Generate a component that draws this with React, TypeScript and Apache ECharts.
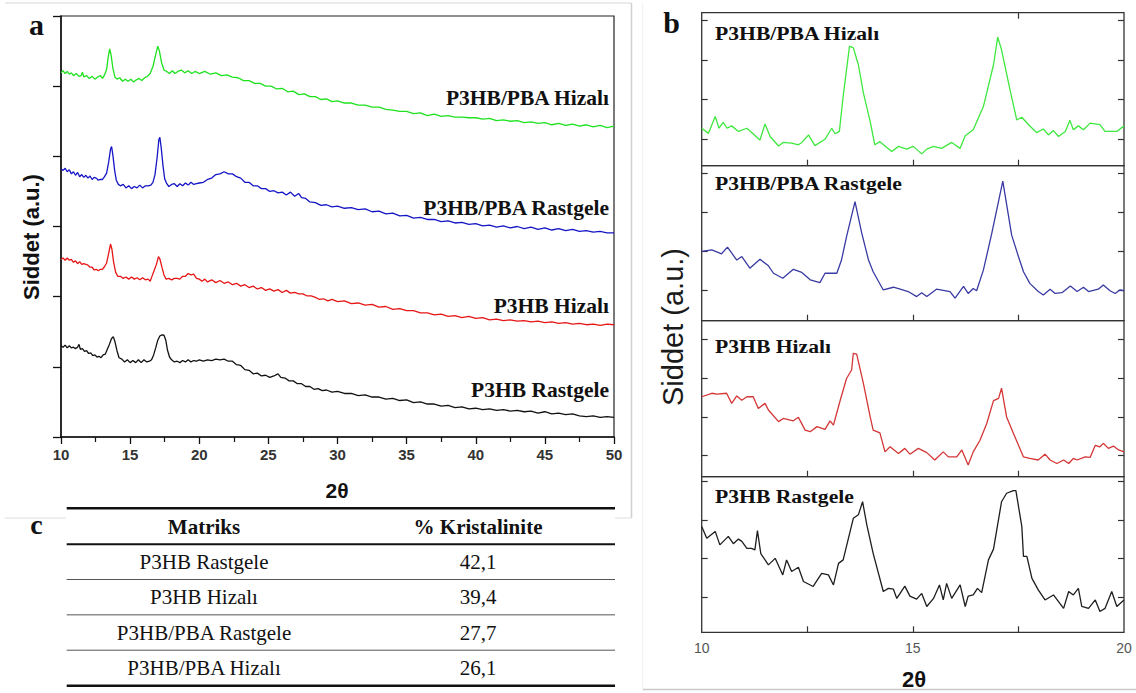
import React, { useEffect, useRef } from "react";
import * as echarts from "echarts";

// ---------- Panel a: full XRD patterns (2θ, intensity in offset units) ----------
const GREEN_A = [[10,5.19],[10.15,5.22],[10.3,5.18],[10.45,5.21],[10.6,5.17],[10.75,5.19],[10.9,5.15],[11.1,5.18],[11.3,5.14],[11.45,5.15],[11.55,5.2],[11.65,5.13],[11.85,5.15],[12.05,5.11],[12.25,5.14],[12.45,5.1],[12.65,5.13],[12.85,5.15],[13,5.11],[13.15,5.16],[13.3,5.24],[13.42,5.42],[13.52,5.53],[13.62,5.45],[13.75,5.26],[13.9,5.13],[14.05,5.1],[14.25,5.12],[14.45,5.07],[14.65,5.1],[14.85,5.07],[15.05,5.1],[15.25,5.06],[15.45,5.09],[15.65,5.11],[15.85,5.08],[16.05,5.12],[16.25,5.14],[16.45,5.18],[16.65,5.28],[16.85,5.45],[17,5.57],[17.12,5.5],[17.28,5.33],[17.45,5.23],[17.65,5.21],[17.85,5.18],[18.05,5.22],[18.25,5.18],[18.45,5.21],[18.7,5.23],[18.95,5.19],[19.2,5.22],[19.45,5.18],[19.7,5.21],[20,5.18],[20.4,5.21],[20.8,5.17],[21.2,5.19],[21.6,5.15],[22,5.16],[22.4,5.13],[22.8,5.12],[23.2,5.08],[23.6,5.08],[24,5.04],[24.4,5.04],[24.8,5],[25.2,5],[25.6,4.96],[26,4.97],[26.4,4.92],[26.8,4.93],[27.2,4.88],[27.6,4.89],[28,4.85],[28.4,4.85],[28.8,4.81],[29.2,4.82],[29.6,4.78],[30,4.79],[30.5,4.76],[31,4.76],[31.5,4.73],[32,4.73],[32.5,4.7],[33,4.7],[33.5,4.67],[34,4.66],[34.5,4.64],[35,4.64],[35.5,4.61],[36,4.62],[36.5,4.58],[37,4.6],[37.5,4.57],[38,4.58],[38.5,4.56],[39,4.56],[39.5,4.55],[40,4.55],[40.5,4.53],[41,4.54],[41.5,4.51],[42,4.52],[42.5,4.5],[43,4.51],[43.5,4.48],[44,4.49],[44.5,4.47],[45,4.48],[45.5,4.45],[46,4.47],[46.5,4.44],[47,4.46],[47.5,4.43],[48,4.45],[48.5,4.42],[49,4.44],[49.5,4.41],[50,4.43]];
const BLUE_A = [[10,3.82],[10.15,3.8],[10.3,3.83],[10.45,3.78],[10.6,3.81],[10.75,3.75],[10.9,3.78],[11.05,3.73],[11.2,3.77],[11.35,3.71],[11.5,3.74],[11.65,3.7],[11.8,3.73],[11.95,3.69],[12.1,3.72],[12.25,3.67],[12.4,3.7],[12.55,3.69],[12.7,3.66],[12.85,3.67],[13,3.67],[13.15,3.71],[13.3,3.76],[13.45,3.92],[13.58,4.1],[13.66,4.14],[13.75,4.02],[13.88,3.8],[14,3.66],[14.15,3.6],[14.3,3.58],[14.5,3.6],[14.7,3.55],[14.9,3.58],[15.1,3.54],[15.3,3.57],[15.5,3.55],[15.7,3.59],[15.9,3.55],[16.1,3.58],[16.3,3.58],[16.5,3.59],[16.65,3.63],[16.8,3.74],[16.95,3.98],[17.08,4.24],[17.15,4.27],[17.25,4.12],[17.38,3.86],[17.5,3.68],[17.65,3.61],[17.8,3.57],[18,3.6],[18.2,3.61],[18.4,3.57],[18.6,3.61],[18.8,3.58],[19,3.62],[19.2,3.59],[19.4,3.63],[19.6,3.6],[19.8,3.61],[20,3.62],[20.3,3.63],[20.6,3.67],[20.9,3.69],[21.2,3.74],[21.5,3.75],[21.8,3.78],[22.1,3.75],[22.4,3.75],[22.7,3.71],[23,3.69],[23.3,3.63],[23.6,3.63],[23.9,3.58],[24.2,3.58],[24.5,3.54],[24.8,3.54],[25.1,3.5],[25.4,3.51],[25.7,3.48],[26,3.49],[26.3,3.45],[26.6,3.49],[26.9,3.43],[27.2,3.47],[27.4,3.41],[27.7,3.4],[28,3.35],[28.4,3.34],[28.8,3.3],[29.2,3.31],[29.6,3.28],[30,3.29],[30.5,3.26],[31,3.27],[31.5,3.24],[32,3.25],[32.5,3.21],[33,3.22],[33.5,3.18],[34,3.19],[34.5,3.15],[35,3.16],[35.5,3.12],[36,3.13],[36.5,3.1],[37,3.1],[37.5,3.07],[38,3.08],[38.5,3.05],[39,3.06],[39.5,3.03],[40,3.04],[40.5,3.01],[41,3.02],[41.5,2.99],[42,3.01],[42.5,2.98],[43,3],[43.5,2.97],[44,2.99],[44.5,2.96],[45,2.98],[45.5,2.95],[46,2.97],[46.5,2.94],[47,2.96],[47.5,2.93],[48,2.94],[48.5,2.92],[49,2.93],[49.5,2.91],[50,2.91]];
const RED_A = [[10,2.53],[10.15,2.55],[10.3,2.52],[10.45,2.55],[10.6,2.52],[10.75,2.53],[10.9,2.49],[11.05,2.51],[11.2,2.47],[11.35,2.5],[11.5,2.46],[11.65,2.47],[11.8,2.46],[11.95,2.45],[12.1,2.42],[12.25,2.42],[12.4,2.38],[12.55,2.39],[12.7,2.37],[12.85,2.39],[13,2.39],[13.15,2.43],[13.3,2.48],[13.45,2.62],[13.58,2.75],[13.68,2.68],[13.8,2.5],[13.95,2.35],[14.1,2.29],[14.3,2.29],[14.5,2.26],[14.7,2.28],[14.9,2.25],[15.1,2.28],[15.3,2.25],[15.5,2.27],[15.7,2.24],[15.9,2.27],[16.1,2.24],[16.3,2.25],[16.45,2.22],[16.6,2.3],[16.75,2.38],[16.9,2.46],[17.05,2.57],[17.15,2.54],[17.3,2.42],[17.45,2.31],[17.6,2.25],[17.8,2.26],[18,2.24],[18.2,2.26],[18.4,2.26],[18.6,2.25],[18.8,2.29],[19,2.29],[19.2,2.33],[19.4,2.31],[19.6,2.32],[19.8,2.26],[20,2.25],[20.2,2.22],[20.4,2.25],[20.6,2.21],[20.9,2.24],[21.2,2.2],[21.5,2.23],[21.8,2.19],[22.1,2.21],[22.4,2.17],[22.7,2.19],[23,2.15],[23.3,2.17],[23.6,2.13],[23.9,2.15],[24.2,2.11],[24.5,2.13],[24.8,2.09],[25.1,2.11],[25.4,2.08],[25.7,2.1],[26,2.06],[26.3,2.09],[26.6,2.05],[26.9,2.06],[27.2,2.04],[27.5,2.04],[27.8,2.01],[28.1,2.01],[28.4,1.99],[28.7,1.96],[29,1.97],[29.3,1.94],[29.6,1.96],[30,1.93],[30.5,1.94],[31,1.9],[31.5,1.91],[32,1.88],[32.5,1.89],[33,1.85],[33.5,1.86],[34,1.82],[34.5,1.83],[35,1.8],[35.5,1.8],[36,1.77],[36.5,1.77],[37,1.74],[37.5,1.75],[38,1.72],[38.5,1.73],[39,1.7],[39.5,1.72],[40,1.69],[40.5,1.7],[41,1.67],[41.5,1.68],[42,1.66],[42.5,1.67],[43,1.65],[43.5,1.66],[44,1.64],[44.5,1.65],[45,1.63],[45.5,1.64],[46,1.62],[46.5,1.63],[47,1.61],[47.5,1.62],[48,1.6],[48.5,1.61],[49,1.59],[49.5,1.61],[50,1.6]];
const BLACK_A = [[10,1.3],[10.15,1.28],[10.3,1.31],[10.45,1.27],[10.6,1.3],[10.75,1.27],[10.9,1.28],[11.05,1.26],[11.2,1.28],[11.3,1.32],[11.4,1.25],[11.55,1.26],[11.7,1.22],[11.85,1.23],[12,1.19],[12.15,1.2],[12.3,1.16],[12.45,1.17],[12.6,1.14],[12.75,1.15],[12.9,1.13],[13.05,1.17],[13.2,1.18],[13.35,1.25],[13.5,1.32],[13.65,1.4],[13.78,1.43],[13.9,1.36],[14.05,1.23],[14.2,1.13],[14.4,1.11],[14.6,1.07],[14.8,1.1],[15,1.06],[15.2,1.09],[15.4,1.06],[15.6,1.1],[15.8,1.06],[16,1.1],[16.2,1.07],[16.4,1.08],[16.55,1.1],[16.7,1.17],[16.85,1.27],[17,1.38],[17.15,1.44],[17.3,1.455],[17.45,1.45],[17.58,1.38],[17.7,1.24],[17.85,1.14],[18,1.1],[18.2,1.07],[18.4,1.08],[18.6,1.06],[18.8,1.09],[19,1.07],[19.2,1.1],[19.4,1.07],[19.6,1.09],[19.8,1.08],[20,1.1],[20.3,1.08],[20.6,1.1],[20.9,1.09],[21.2,1.11],[21.5,1.1],[21.8,1.11],[22.1,1.08],[22.4,1.08],[22.7,1.03],[23,1.02],[23.3,0.96],[23.6,0.95],[23.9,0.9],[24.2,0.91],[24.5,0.87],[24.8,0.88],[25.1,0.85],[25.4,0.87],[25.7,0.9],[25.9,0.85],[26.2,0.84],[26.5,0.8],[26.8,0.8],[27.1,0.76],[27.4,0.76],[27.7,0.72],[28,0.72],[28.3,0.68],[28.6,0.69],[28.9,0.66],[29.2,0.67],[29.6,0.64],[30,0.65],[30.5,0.62],[31,0.62],[31.5,0.59],[32,0.6],[32.5,0.57],[33,0.57],[33.5,0.54],[34,0.55],[34.5,0.52],[35,0.53],[35.5,0.49],[36,0.5],[36.5,0.47],[37,0.47],[37.5,0.44],[38,0.45],[38.5,0.42],[39,0.43],[39.5,0.4],[40,0.41],[40.5,0.39],[41,0.4],[41.5,0.38],[42,0.39],[42.5,0.37],[43,0.38],[43.5,0.36],[44,0.37],[44.5,0.34],[45,0.36],[45.5,0.33],[46,0.34],[46.5,0.32],[47,0.33],[47.5,0.3],[48,0.29],[48.5,0.3],[49,0.28],[49.5,0.29],[50,0.28]];

// ---------- Panel b: zoomed patterns 10–20° ----------
const GREEN_B = [[10,1.27],[10.16,1.14],[10.32,1.57],[10.41,1.27],[10.51,1.42],[10.6,1.27],[10.71,1.33],[10.87,1.19],[11.07,1.27],[11.38,0.97],[11.5,1.38],[11.62,1.06],[11.82,0.82],[11.93,0.91],[12.13,0.89],[12.29,0.85],[12.37,0.91],[12.53,1.1],[12.68,0.83],[12.92,0.99],[13.08,1.27],[13.16,1.13],[13.26,1.19],[13.35,2.08],[13.5,3.35],[13.59,3.31],[13.71,2.88],[13.83,2.16],[13.99,1.44],[14.1,0.85],[14.22,0.93],[14.5,0.68],[14.66,0.81],[14.85,0.74],[15.01,0.81],[15.21,0.62],[15.33,0.74],[15.49,0.81],[15.68,0.76],[15.92,0.91],[16.12,0.76],[16.24,1.08],[16.43,1.23],[16.67,1.82],[16.91,2.88],[17.01,3.58],[17.1,3.26],[17.3,2.25],[17.46,1.48],[17.58,1.55],[17.74,1.36],[17.93,1.16],[18.09,1.25],[18.21,1.1],[18.33,1.21],[18.45,1.06],[18.61,1.19],[18.72,1.47],[18.8,1.23],[18.92,1.33],[19.04,1.23],[19.2,1.4],[19.43,1.36],[19.55,1.19],[19.83,1.19],[20,1.33]];
const BLUE_B = [[10,1.99],[10.24,2.03],[10.47,1.93],[10.61,2.1],[10.83,1.77],[10.95,1.86],[11.14,1.56],[11.38,1.79],[11.58,1.62],[11.7,1.43],[11.92,1.3],[12.17,1.53],[12.37,1.45],[12.57,1.26],[12.8,1.19],[12.92,1.43],[13.2,1.43],[13.31,1.77],[13.43,2.37],[13.63,3.27],[13.79,2.46],[13.95,1.77],[14.06,1.47],[14.3,1],[14.54,1.07],[14.7,1.02],[14.89,0.96],[15.09,0.83],[15.21,0.93],[15.33,0.83],[15.56,1.02],[15.88,0.96],[16,0.79],[16.2,1.09],[16.31,0.91],[16.43,1.04],[16.51,0.98],[16.67,1.51],[16.87,2.46],[17.13,3.8],[17.34,2.41],[17.5,1.86],[17.62,1.47],[17.77,1.17],[17.97,0.96],[18.09,0.87],[18.25,1.02],[18.37,0.91],[18.53,0.93],[18.73,1.1],[18.89,0.96],[19.04,1.07],[19.16,0.96],[19.39,1.02],[19.51,1.13],[19.67,0.98],[19.79,0.91],[19.9,1],[20,0.98]];
const RED_B = [[10,2.52],[10.24,2.61],[10.36,2.59],[10.59,2.61],[10.71,2.35],[10.83,2.54],[10.95,2.43],[11.07,2.52],[11.22,2.52],[11.34,2.22],[11.5,2.35],[11.58,2.18],[11.82,1.88],[11.93,1.96],[12.17,1.9],[12.29,1.99],[12.45,1.66],[12.57,1.62],[12.73,1.75],[12.92,1.68],[13.04,1.9],[13.12,1.79],[13.28,2.43],[13.43,2.99],[13.55,3.21],[13.59,3.64],[13.67,3.62],[13.83,2.86],[13.99,2],[14.06,1.66],[14.22,1.59],[14.34,1.1],[14.46,1.23],[14.66,1.06],[14.81,1.19],[14.93,1.04],[15.13,1.19],[15.33,1.08],[15.52,0.89],[15.72,1.1],[15.84,0.97],[16.04,0.97],[16.16,1.15],[16.31,0.76],[16.43,1.1],[16.59,1.4],[16.75,1.83],[16.91,2.42],[17.03,2.48],[17.1,2.74],[17.22,2],[17.38,1.58],[17.62,0.97],[17.77,0.93],[17.97,0.89],[18.13,1.04],[18.25,0.89],[18.41,0.8],[18.57,0.89],[18.69,0.8],[18.8,0.93],[18.89,0.89],[19.08,0.97],[19.2,0.96],[19.32,1.27],[19.43,1.23],[19.51,1.32],[19.63,1.19],[19.75,1.25],[19.87,1.15],[20,1.1]];
const BLACK_B = [[10,2.84],[10.12,2.53],[10.32,2.71],[10.43,2.36],[10.63,2.58],[10.75,2.39],[10.87,2.51],[10.95,2.45],[11.07,2.27],[11.18,2.27],[11.26,2.23],[11.32,2.73],[11.4,2.13],[11.58,1.84],[11.74,2.01],[11.92,1.58],[12.01,1.97],[12.13,1.67],[12.29,1.78],[12.41,1.41],[12.64,1.28],[12.84,1.62],[13,1.58],[13.12,1.32],[13.24,1.88],[13.35,1.97],[13.59,3.05],[13.71,3.14],[13.81,3.48],[13.91,2.88],[14.06,2.14],[14.3,1.15],[14.42,1.23],[14.54,1.21],[14.62,0.97],[14.81,1.29],[14.93,1.03],[15.09,0.95],[15.21,1.1],[15.33,0.76],[15.49,0.97],[15.63,1.32],[15.72,0.93],[15.8,1.36],[15.92,0.97],[16.12,1.32],[16.24,0.76],[16.31,1.03],[16.43,1.06],[16.53,1.23],[16.63,1.12],[16.79,1.97],[16.91,2.25],[17.1,3.48],[17.22,3.7],[17.38,3.77],[17.44,3.77],[17.58,2.84],[17.62,2.06],[17.7,2.06],[17.82,1.49],[17.97,1.19],[18.13,0.93],[18.33,1.06],[18.57,0.71],[18.69,1.15],[18.8,1.06],[18.92,1.23],[19,0.76],[19.16,0.71],[19.32,0.93],[19.43,0.63],[19.55,0.71],[19.71,1.15],[19.83,0.76],[20,0.93]];

// ---------- Labels and table ----------
const SAMPLES = ["P3HB/PBA Hizalı", "P3HB/PBA Rastgele", "P3HB Hizalı", "P3HB Rastgele"];
const A_X_TICKS = { min: 10, max: 50, step: 5 };
const B_X_TICK_LABELS = [10, 15, 20];
const B_X_TICKS = [12.5, 15, 17.5];
const B_Y_TICKS = [1, 2, 3, 4];
const TABLE_HEAD = ["Matriks", "% Kristalinite"];
const TABLE_NAMES = ["P3HB Rastgele", "P3HB Hizalı", "P3HB/PBA Rastgele", "P3HB/PBA Hizalı"];
const TABLE_VALUES = [42.1, 39.4, 27.7, 26.1];

const SANS = "'Liberation Sans', Arial, sans-serif";
const SERIF = "'Liberation Serif', 'Times New Roman', serif";

export default function App() {
  const ref = useRef<HTMLDivElement>(null);
  useEffect(() => {
    const chart = echarts.init(ref.current as HTMLDivElement, null, { renderer: "svg" });

    const bTop = [12.7, 165.7, 320.7, 476.7];
    const bH = [153, 155, 156, 155.6];
    const bY = [[0.32, 4.2], [0.21, 4.195], [0.46, 4.48], [0.09, 4.13]];
    const bData = [GREEN_B, BLUE_B, RED_B, BLACK_B];
    const bColors = ["#3ee83e", "#3a3aa4", "#d43636", "#1e1e1e"];
    const aData = [GREEN_A, BLUE_A, RED_A, BLACK_A];
    const aColors = ["#1ee21e", "#1515c6", "#e61616", "#111111"];

    const grids: any[] = [
      { left: 61, top: 16, width: 553, height: 421, show: true, borderColor: "#222", borderWidth: 1.2 },
    ];
    bTop.forEach((t, i) =>
      grids.push({ left: 701.7, top: t, width: 422.3, height: bH[i], show: true, borderColor: "#333", borderWidth: 1.3 })
    );

    const xAxes: any[] = [
      {
        gridIndex: 0, type: "value", min: A_X_TICKS.min, max: A_X_TICKS.max, interval: A_X_TICKS.step,
        axisLine: { show: true, lineStyle: { color: "#111", width: 1.5 } },
        axisTick: { show: true, length: 7, lineStyle: { color: "#111", width: 1.3 } },
        minorTick: { show: true, splitNumber: 2, length: 5, lineStyle: { color: "#111", width: 1.2 } },
        axisLabel: { fontFamily: SANS, fontWeight: "bold", fontSize: 15, color: "#333", margin: 10 },
        splitLine: { show: false },
      },
    ];
    bTop.forEach((_, i) =>
      xAxes.push({
        gridIndex: i + 1, type: "value", min: 10, max: 20,
        axisLine: { show: false },
        axisTick: { show: true, inside: true, length: 6, customValues: B_X_TICKS, lineStyle: { color: "#333", width: 1.2 } },
        axisLabel: i === 3
          ? { show: true, customValues: B_X_TICK_LABELS, fontFamily: SANS, fontSize: 14, color: "#555", margin: 9 }
          : { show: false },
        splitLine: { show: false },
      })
    );
    xAxes.push({
      gridIndex: 1, type: "value", min: 10, max: 20, position: "top",
      axisLine: { show: false },
      axisTick: { show: true, inside: true, length: 6, customValues: [17.5], lineStyle: { color: "#333", width: 1.2 } },
      axisLabel: { show: false }, splitLine: { show: false },
    });

    const yAxes: any[] = [
      {
        gridIndex: 0, type: "value", min: 0, max: 6, interval: 1,
        axisLine: { show: true, lineStyle: { color: "#111", width: 1.5 } },
        axisTick: { show: true, length: 8, lineStyle: { color: "#111", width: 1.3 } },
        axisLabel: { show: false }, splitLine: { show: false },
      },
    ];
    ["left", "right"].forEach((pos) =>
      bTop.forEach((_, i) =>
        yAxes.push({
          gridIndex: i + 1, type: "value", position: pos, min: bY[i][0], max: bY[i][1],
          axisLine: { show: false },
          axisTick: { show: true, inside: true, length: 6, customValues: B_Y_TICKS, lineStyle: { color: "#333", width: 1.2 } },
          axisLabel: { show: false }, splitLine: { show: false },
        })
      )
    );

    const series: any[] = [];
    aData.forEach((d, i) =>
      series.push({
        type: "line", xAxisIndex: 0, yAxisIndex: 0, data: d, showSymbol: false, symbol: "none",
        lineStyle: { width: 1.3, color: aColors[i] }, color: aColors[i], silent: true,
      })
    );
    bData.forEach((d, i) =>
      series.push({
        type: "line", xAxisIndex: i + 1, yAxisIndex: i + 1, data: d, showSymbol: false, symbol: "none",
        lineStyle: { width: 1.3, color: bColors[i] }, color: bColors[i], silent: true,
      })
    );

    const txt = (text: string, x: number, y: number, o: any = {}) => ({
      type: "text", x, y, rotation: o.rotation || 0, scaleX: o.scaleX || 1,
      style: {
        text, fill: o.fill || "#111", fontSize: o.fontSize || 20, fontFamily: o.fontFamily || SERIF,
        fontWeight: o.fontWeight || "normal",
        align: o.align || "center", verticalAlign: "middle",
        textAlign: o.align || "center", textVerticalAlign: "middle",
      },
    });
    const line = (x1: number, y1: number, x2: number, y2: number, stroke: string, w: number) => ({
      type: "line", shape: { x1, y1, x2, y2 }, style: { stroke, lineWidth: w },
    });

    const graphics: any[] = [];
    // faint image frames
    graphics.push(line(5, 3, 631.5, 3, "#d6d6d6", 1));
    graphics.push(line(631.5, 3, 631.5, 518, "#cfcfcf", 1.5));
    graphics.push(line(5, 518, 66, 518, "#dedede", 1));
    graphics.push(line(615, 518, 631.5, 518, "#dedede", 1));
    graphics.push(line(642.7, 3, 642.7, 689.5, "#f0f0f0", 1));
    graphics.push(line(642.7, 689.5, 1136, 689.5, "#c8c8c8", 1.5));

    // panel letters
    graphics.push(txt("a", 36.5, 24, { fontSize: 30, fontWeight: "bold" }));
    graphics.push(txt("b", 671.5, 22, { fontSize: 30, fontWeight: "bold" }));
    graphics.push(txt("c", 36.5, 524, { fontSize: 28, fontWeight: "bold" }));

    // panel a labels
    const aLabelY = [98, 208, 306, 390];
    SAMPLES.forEach((s, i) =>
      graphics.push(txt(s, 609, aLabelY[i], { fontSize: 21.5, fontWeight: "bold", align: "right" }))
    );
    graphics.push(txt("Siddet (a.u.)", 31, 237, { fontSize: 22, fontWeight: "bold", fontFamily: SANS, rotation: Math.PI / 2 }));
    graphics.push(txt("2θ", 337, 490, { fontSize: 21, fontWeight: "bold", fontFamily: SANS }));

    // panel b labels
    const bTitleY = [33, 183, 346.5, 496.5];
    SAMPLES.forEach((s, i) =>
      graphics.push(txt(s, 715, bTitleY[i], { fontSize: 19, fontWeight: "bold", align: "left", scaleX: 1.14 }))
    );
    graphics.push(txt("Siddet (a.u.)", 673, 327, { fontSize: 29, fontFamily: SANS, fill: "#1a1a1a", rotation: Math.PI / 2 }));
    graphics.push(txt("2θ", 914, 679, { fontSize: 22, fontWeight: "bold", fontFamily: SANS }));

    // table c
    const tL = 66.7, tR = 615;
    const colX = [204, 478];
    graphics.push(line(tL, 508.3, tR, 508.3, "#111", 2.5));
    graphics.push(line(tL, 544.3, tR, 544.3, "#111", 2));
    TABLE_HEAD.forEach((h, j) => graphics.push(txt(h, colX[j], 527, { fontSize: 21, fontWeight: "bold" })));
    const rowStep = 35.35;
    TABLE_NAMES.forEach((n, i) => {
      const cy = 562 + i * rowStep;
      graphics.push(txt(n, colX[0], cy, { fontSize: 21 }));
      graphics.push(txt(TABLE_VALUES[i].toFixed(1).replace(".", ","), colX[1], cy, { fontSize: 21 }));
      if (i < TABLE_NAMES.length - 1) {
        const ly = 579.5 + i * rowStep;
        graphics.push(line(tL, ly, tR, ly, "#555", 1));
      }
    });
    graphics.push(line(tL, 685.7, tR, 685.7, "#111", 2.5));

    chart.setOption({
      animation: false,
      backgroundColor: "#ffffff",
      grid: grids,
      xAxis: xAxes,
      yAxis: yAxes,
      series,
      graphic: graphics,
    });
    return () => chart.dispose();
  }, []);
  return <div ref={ref} style={{ position: "absolute", left: 0, top: 0, width: 1136, height: 693 }} />;
}
